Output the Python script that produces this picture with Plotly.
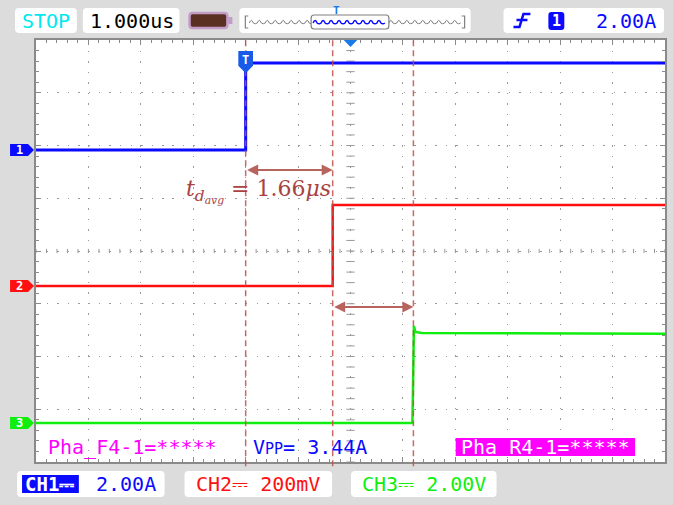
import numpy as np
import plotly.graph_objects as go

# ---- scope setup -------------------------------------------------------
# Timebase 1.000 us/div, 12 horizontal divisions, trigger at t = 0
T_MIN, T_MAX = -4.0, 8.0
N_VDIV = 8

# Channel scale (units/div) and ground-marker offset (div from bottom)
CH1_SCALE, CH1_OFFSET = 2.00, 5.915   # A/div
CH2_SCALE, CH2_OFFSET = 0.200, 3.336  # V/div
CH3_SCALE, CH3_OFFSET = 2.00, 0.739   # V/div

# Average propagation delay between channels (us)
TD_AVG = 1.66

# Waveform breakpoints: time in us, value in channel units
ch1_t = [-4.0, 0.0, 0.0, 8.0]
ch1_v = [0.0, 0.0, 3.30, 3.30]

ch2_t = [-4.0, 1.66, 1.66, 8.0]
ch2_v = [0.0, 0.0, 0.307, 0.307]

ch3_t = [-4.0, 3.18, 3.19, 3.21, 3.24, 3.36, 8.0]
ch3_v = [0.0, 0.0, 1.06, 3.68, 3.45, 3.41, 3.38]

# Cursor positions (us)
cursor_t = [0.0, TD_AVG, 3.20]

# Status-bar texts
timebase_text = "1.000us"
trigger_level_text = "2.00A"
ch_scale_texts = ["2.00A", "200mV", "2.00V"]
meas_left = "Pha_F4-1=*****"
meas_mid_value = "3.44A"
meas_right = "Pha_R4-1=*****"

# ---- colours -----------------------------------------------------------
BLUE = "#0a0aff"
RED = "#ff1010"
GREEN = "#10ee10"
MAGENTA = "#ff00ff"
CYAN = "#00e8f0"
CURSOR = "rgba(190,80,75,0.85)"
ARROW = "#b8645e"
GRID = "#9a9a9a"
BG = "#dcdcdc"
MONO = "DejaVu Sans Mono"

W, H = 673, 505
ML, MR, MT, MB = 36, 6, 40, 43
PW = W - ML - MR
PH = H - MT - MB


def px(x):
    return (x - ML) / PW


def py(y):
    return (H - MB - y) / PH


def to_div(values, scale, offset):
    return [offset + v / scale for v in values]


def rrect(x0, y0, x1, y1, r=4):
    X0, X1, Y0, Y1 = px(x0), px(x1), py(y0), py(y1)
    rx, ry = r / PW, r / PH
    return (f"M{X0+rx},{Y0} L{X1-rx},{Y0} Q{X1},{Y0} {X1},{Y0-ry} "
            f"L{X1},{Y1+ry} Q{X1},{Y1} {X1-rx},{Y1} L{X0+rx},{Y1} "
            f"Q{X0},{Y1} {X0},{Y1+ry} L{X0},{Y0-ry} Q{X0},{Y0} {X0+rx},{Y0} Z")


def wave_path(x0, x1, yc, period=8.0, amp=2.6):
    d = f"M{px(x0)},{py(yc)}"
    n = int(round((x1 - x0) / period))
    for i in range(n):
        xa = x0 + i * period
        d += f" Q{px(xa + period/4)},{py(yc - amp*2)} {px(xa + period/2)},{py(yc)}"
        d += f" Q{px(xa + 3*period/4)},{py(yc + amp*0.6)} {px(xa + period)},{py(yc)}"
    return d


def label(xp, yp, text, color, size=20, anchor="center", bold=False):
    """Status text positioned in pixel coordinates of the screen."""
    return dict(x=px(xp), y=py(yp), xref="paper", yref="paper",
                xanchor=anchor, yanchor="middle", showarrow=False,
                text=f"<b>{text}</b>" if bold else text,
                font=dict(family=MONO, size=size, color=color))


fig = go.Figure()

# centre-line graticule ticks
ticks_y = np.round(np.arange(0, N_VDIV + 0.001, 0.2), 3)
ticks_x = np.round(np.arange(T_MIN, T_MAX + 0.001, 0.2), 3)
fig.add_trace(go.Scatter(x=[2.0] * len(ticks_y), y=ticks_y, mode="markers",
                         marker=dict(symbol="line-ew", size=6,
                                     line=dict(width=1, color=GRID)),
                         hoverinfo="skip"))
fig.add_trace(go.Scatter(x=ticks_x, y=[4.0] * len(ticks_x), mode="markers",
                         marker=dict(symbol="line-ns", size=3,
                                     line=dict(width=1, color=GRID)),
                         hoverinfo="skip"))

# waveforms
fig.add_trace(go.Scatter(x=ch3_t, y=to_div(ch3_v, CH3_SCALE, CH3_OFFSET),
                         mode="lines", line=dict(color=GREEN, width=2.5)))
fig.add_trace(go.Scatter(x=ch2_t, y=to_div(ch2_v, CH2_SCALE, CH2_OFFSET),
                         mode="lines", line=dict(color=RED, width=2.5)))
fig.add_trace(go.Scatter(x=ch1_t, y=to_div(ch1_v, CH1_SCALE, CH1_OFFSET),
                         mode="lines", line=dict(color=BLUE, width=3)))

shapes = []
annotations = []

# cursors
for t in cursor_t:
    shapes.append(dict(type="line", xref="x", yref="paper", x0=t, x1=t,
                       y0=-0.01, y1=1.005,
                       line=dict(color=CURSOR, width=1.5, dash="6px,4px"),
                       layer="above"))

# delay arrows
arrow_y = [5.535, 2.94]
for (ta, tb), yy in zip([(cursor_t[0], cursor_t[1]), (cursor_t[1], cursor_t[2])], arrow_y):
    annotations.append(dict(x=tb, y=yy, ax=ta, ay=yy, xref="x", yref="y",
                            axref="x", ayref="y", text="", showarrow=True,
                            arrowhead=2, arrowside="end+start", arrowsize=1.1,
                            arrowwidth=2, arrowcolor=ARROW))

annotations.append(dict(
    x=TD_AVG, y=5.12, xref="x", yref="y", xanchor="right", yanchor="middle",
    showarrow=False,
    text=(f"<i>t</i><sub><i>d<sub>avg</sub></i></sub> = {TD_AVG:.2f}<i>μs</i>"),
    font=dict(family="DejaVu Serif", size=22, color="#a8433f")))

# channel ground markers
for num, offset, color in [("1", CH1_OFFSET, BLUE), ("2", CH2_OFFSET, RED),
                           ("3", CH3_OFFSET, GREEN)]:
    x0, x1, xt = px(10), px(28), px(34)
    h = 0.115
    shapes.append(dict(type="path", xref="paper", yref="y",
                       path=(f"M{x0},{offset+h} L{x1},{offset+h} L{xt},{offset} "
                             f"L{x1},{offset-h} L{x0},{offset-h} Z"),
                       fillcolor=color, line=dict(width=0), layer="above"))
    annotations.append(dict(x=px(19), y=offset, xref="paper", yref="y",
                            xanchor="center", yanchor="middle",
                            text=f"<b>{num}</b>", showarrow=False,
                            font=dict(family=MONO, size=12, color="white")))

# trigger point marker
tx = cursor_t[0]
shapes.append(dict(type="path", xref="x", yref="y",
                   path=(f"M{tx-0.14},7.79 L{tx+0.14},7.79 L{tx+0.14},7.51 "
                         f"L{tx},7.37 L{tx-0.14},7.51 Z"),
                   fillcolor="#1a5ae8", line=dict(width=0), layer="above"))
annotations.append(dict(x=tx, y=7.63, xref="x", yref="y", text="<b>T</b>",
                        xanchor="center", yanchor="middle", showarrow=False,
                        font=dict(family=MONO, size=12, color="white")))
# trigger position indicator (top centre)
shapes.append(dict(type="path", xref="x", yref="paper",
                   path=f"M1.87,{py(40)} L2.13,{py(40)} L2.0,{py(47)} Z",
                   fillcolor="#1a7ae8", line=dict(width=0), layer="above"))

# ---- status bar (top) --------------------------------------------------
for (x0, x1) in [(15, 77), (83, 180), (240, 472), (505, 666)]:
    shapes.append(dict(type="path", xref="paper", yref="paper",
                       path=rrect(x0, 8, x1, 33), fillcolor="white",
                       line=dict(width=0), layer="above"))
annotations.append(label(46, 21, "STOP", CYAN))
annotations.append(label(132, 21, timebase_text, "black"))
# memory indicator
shapes.append(dict(type="path", xref="paper", yref="paper",
                   path=rrect(190, 13, 228, 28, r=3), fillcolor="#5a3022",
                   line=dict(color="#c49cc8", width=2.5), layer="above"))
shapes.append(dict(type="rect", xref="paper", yref="paper",
                   x0=px(229), x1=px(233), y0=py(24), y1=py(17),
                   fillcolor="#c49cc8", line=dict(width=0), layer="above"))
# memory depth overview
shapes.append(dict(type="path", xref="paper", yref="paper",
                   path=f"M{px(249)},{py(16)} L{px(246)},{py(16)} L{px(246)},{py(28)} L{px(249)},{py(28)}",
                   line=dict(color="#808080", width=1.2), layer="above"))
shapes.append(dict(type="path", xref="paper", yref="paper",
                   path=f"M{px(463)},{py(16)} L{px(466)},{py(16)} L{px(466)},{py(28)} L{px(463)},{py(28)}",
                   line=dict(color="#808080", width=1.2), layer="above"))
shapes.append(dict(type="path", xref="paper", yref="paper",
                   path=wave_path(250, 314, 23), line=dict(color="#808080", width=1),
                   layer="above"))
shapes.append(dict(type="path", xref="paper", yref="paper",
                   path=wave_path(390, 462, 23), line=dict(color="#808080", width=1),
                   layer="above"))
shapes.append(dict(type="path", xref="paper", yref="paper",
                   path=rrect(312, 15, 390, 29, r=3), fillcolor="white",
                   line=dict(color="#808080", width=1.2), layer="above"))
shapes.append(dict(type="path", xref="paper", yref="paper",
                   path=wave_path(314, 388, 23), line=dict(color=BLUE, width=1.5),
                   layer="above"))
annotations.append(label(337, 11, "T", "#1a7ae8", size=11, bold=True))
# trigger settings
shapes.append(dict(type="path", xref="paper", yref="paper",
                   path=(f"M{px(515)},{py(27)} L{px(521)},{py(27)} L{px(525)},{py(14)} "
                         f"L{px(532)},{py(14)} M{px(518)},{py(20)} L{px(529)},{py(20)}"),
                   line=dict(color=BLUE, width=2.5), layer="above"))
shapes.append(dict(type="path", xref="paper", yref="paper",
                   path=rrect(550, 12, 566, 30, r=3), fillcolor=BLUE,
                   line=dict(width=0), layer="above"))
annotations.append(label(558, 21, "1", "white", size=15, bold=True))
annotations.append(label(628, 21, trigger_level_text, BLUE))

# ---- measurement line (inside graticule) -------------------------------
annotations.append(label(46, 447, meas_left, MAGENTA, anchor="left"))
annotations.append(label(252, 447,
                         f"V<span style='font-size:15px'>PP</span>= {meas_mid_value}",
                         BLUE, anchor="left"))
shapes.append(dict(type="rect", xref="paper", yref="paper",
                   x0=px(457), x1=px(637), y0=py(456), y1=py(438),
                   fillcolor=MAGENTA, line=dict(width=0), layer="above"))
annotations.append(label(547, 447, meas_right, "white"))

# ---- channel bar (bottom) ----------------------------------------------
for (x0, x1) in [(17, 165), (185, 333), (352, 498)]:
    shapes.append(dict(type="path", xref="paper", yref="paper",
                       path=rrect(x0, 471, x1, 497), fillcolor="white",
                       line=dict(width=0), layer="above"))
shapes.append(dict(type="rect", xref="paper", yref="paper",
                   x0=px(22), x1=px(79), y0=py(493), y1=py(475),
                   fillcolor=BLUE, line=dict(width=0), layer="above"))
annotations.append(label(50, 484, "CH1⎓", "white", size=19, bold=True))
annotations.append(label(126, 484, ch_scale_texts[0], BLUE))
annotations.append(label(259, 484, f"CH2⎓ {ch_scale_texts[1]}", RED))
annotations.append(label(425, 484, f"CH3⎓ {ch_scale_texts[2]}", GREEN))

axis_common = dict(
    showgrid=True, gridcolor=GRID, gridwidth=1.2, griddash="1.5px,9px",
    showline=True, linecolor="#8a8a8a", linewidth=1.5, mirror="allticks",
    ticks="inside", ticklen=5, tickcolor="#8a8a8a", tickwidth=1,
    showticklabels=False, zeroline=False, fixedrange=True,
)

fig.update_layout(
    width=W, height=H,
    margin=dict(l=ML, r=MR, t=MT, b=MB, pad=0),
    paper_bgcolor=BG, plot_bgcolor="white",
    showlegend=False, hovermode=False,
    xaxis=dict(range=[T_MIN, T_MAX], tick0=T_MIN, dtick=1,
               minor=dict(tick0=T_MIN, dtick=0.2, ticks="inside", ticklen=3,
                          tickcolor="#8a8a8a", showgrid=False),
               **axis_common),
    yaxis=dict(range=[0, N_VDIV], tick0=0, dtick=1,
               minor=dict(tick0=0, dtick=0.2, ticks="inside", ticklen=3,
                          tickcolor="#8a8a8a", showgrid=False),
               **axis_common),
    shapes=shapes,
    annotations=annotations,
)

fig.write_html("out.html")
